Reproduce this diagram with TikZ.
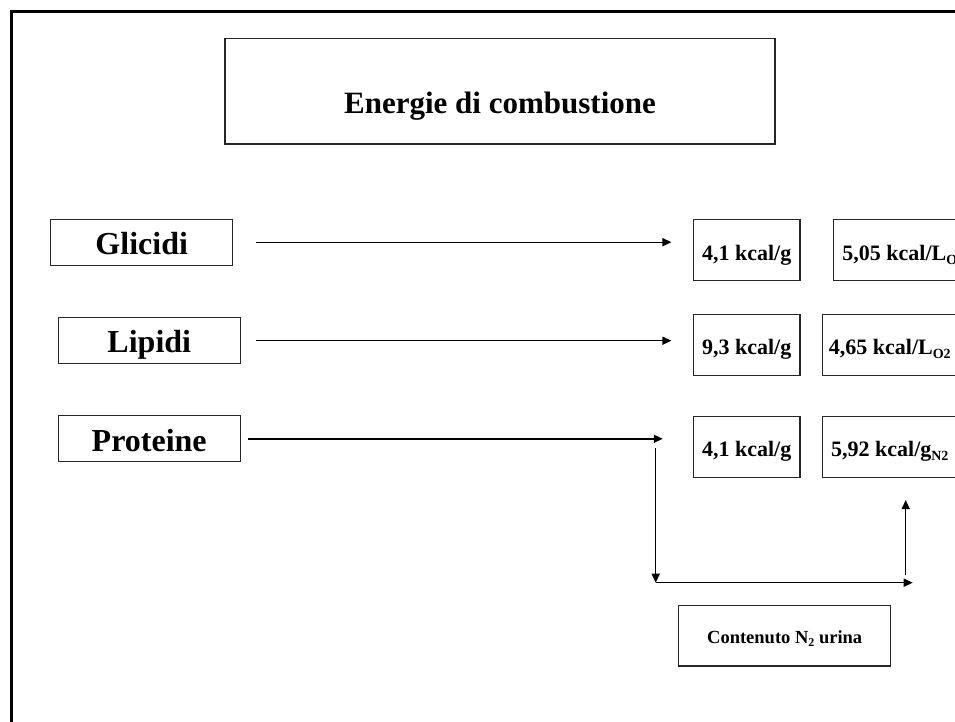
\documentclass[tikz,border=0pt]{standalone}
\usepackage{fontspec}
\setmainfont{Liberation Serif}
\usetikzlibrary{arrows.meta}

% lowered subscript in the current bold face
\newcommand{\lowsub}[3]{\raisebox{-#1}{\fontsize{#2}{#2}\selectfont\bfseries #3}}

\begin{document}
\begin{tikzpicture}[x=1pt,y=-1pt,
  box/.style={draw=black!85, line width=1.2pt, inner sep=0pt, align=center,
              font=\bfseries},
  foodbox/.style={box, minimum width=182pt, minimum height=46pt,
                  text height=24.5pt, text depth=0pt,
                  font=\fontsize{32}{36}\selectfont\bfseries},
  valbox/.style={box, minimum height=61pt,
                 text height=20pt, text depth=0pt,
                 font=\fontsize{22}{26}\selectfont\bfseries},
  flow/.style={line width=1.4pt, -{Triangle[length=9pt,width=8pt]}}
]
\useasboundingbox (0,0) rectangle (955,722);
\clip (0,0) rectangle (955,722);

% slide frame
\draw[line width=3pt] (11.5,740) -- (11.5,12) -- (980,12);

% title
\node[box, minimum width=550pt, minimum height=105.7pt,
      text height=44.2pt, text depth=0pt,
      font=\fontsize{31}{36}\selectfont\bfseries]
  (title) at (500,91.2) {Energie di combustione};

% nutrients
\node[foodbox] (glu) at (141.7,242.2) {Glicidi};
\node[foodbox] (lip) at (149.3,340.7) {Lipidi};
\node[foodbox] (pro) at (149.2,438.8) {Proteine};

% energy per gram
\node[valbox, minimum width=106.7pt] (gluA) at (746.7,250) {4,1 kcal/g};
\node[valbox, minimum width=106.7pt] (lipA) at (746.7,344.7) {9,3 kcal/g};
\node[valbox, minimum width=106.7pt] (proA) at (746.7,446.7) {4,1 kcal/g};

% energy per litre of oxygen / gram of nitrogen
\node[valbox, minimum width=140pt] (gluB) at (903.3,250) {5,05 kcal/L\lowsub{4pt}{14}{O2}};
\node[valbox, minimum width=135pt] (lipB) at (889.8,344.7) {4,65 kcal/L\lowsub{4pt}{14}{O2}};
\node[valbox, minimum width=135pt] (proB) at (889.8,446.7) {5,92 kcal/g\lowsub{4pt}{14}{N2}};

% urinary nitrogen
\node[box, minimum width=212pt, minimum height=60.7pt,
      text height=15.2pt, text depth=0pt,
      font=\fontsize{18.5}{22}\selectfont\bfseries]
  (urine) at (784.7,635.7) {Contenuto N\lowsub{3.5pt}{12}{2} urina};

% main arrows
\draw[flow, shorten <=22.3pt, shorten >=21.3pt] (glu.east) -- (glu.east -| gluA.west);
\draw[flow, shorten <=14.7pt, shorten >=21.3pt] (lip.east) -- (lip.east -| lipA.west);
\draw[flow, shorten <=6.7pt, shorten >=30pt] (pro.east) -- (pro.east -| proA.west);

% nitrogen loop
\coordinate (split) at (655.7,448);
\coordinate (corner) at (655.7,582.7);
\coordinate (hend) at (912.7,582.7);
\coordinate (upstart) at (905.7,575);
\coordinate (upend) at (905.7,500);
\draw[flow] (split) -- (corner);
\draw[flow] (corner) -- (hend);
\draw[flow] (upstart) -- (upend);
\end{tikzpicture}
\end{document}
